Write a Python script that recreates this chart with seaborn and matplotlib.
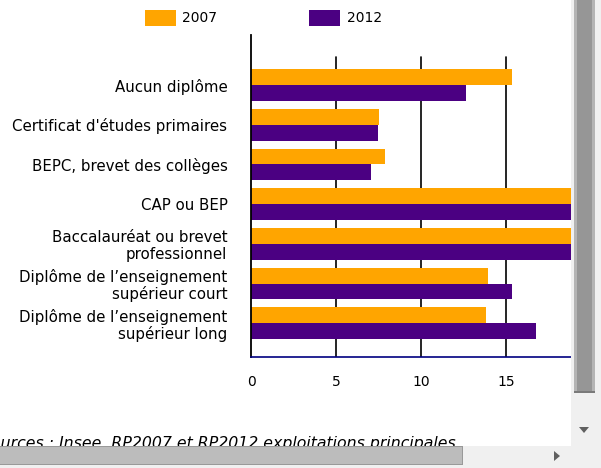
import pandas as pd
import numpy as np
import matplotlib
matplotlib.use("Agg")
import matplotlib.pyplot as plt
from matplotlib.patches import Patch, Rectangle, Polygon
import seaborn as sns

# categories and values (clipped ones on the right are estimates)
categories = [
    "Aucun diplôme",
    "Certificat d'études primaires",
    "BEPC, brevet des collèges",
    "CAP ou BEP",
    "Baccalauréat ou brevet\nprofessionnel",
    "Diplôme de l\u2019enseignement\nsupérieur court",
    "Diplôme de l\u2019enseignement\nsupérieur long",
]
years = ["2007", "2012"]
values_2007 = [15.35, 7.55, 7.9, 19.6, 19.4, 13.95, 13.85]
values_2012 = [12.65, 7.45, 7.05, 19.8, 19.6, 15.35, 16.75]
xticks = [0, 5, 10, 15]
colors = {"2007": "#FFA500", "2012": "#4B0082"}

df = pd.DataFrame({
    "categorie": categories * 2,
    "annee": ["2007"] * len(categories) + ["2012"] * len(categories),
    "valeur": values_2007 + values_2012,
})

sns.set_style("white")
plt.rcParams["font.family"] = ["DejaVu Sans"]
plt.rcParams["text.color"] = "black"
plt.rcParams["xtick.color"] = "black"
plt.rcParams["ytick.color"] = "black"

fig = plt.figure(figsize=(6.01, 4.68), dpi=100)
W, H = 601, 468
ax = fig.add_axes([251 / W, (H - 357) / H, 320 / W, 322 / H])

sns.barplot(data=df, y="categorie", x="valeur", hue="annee", order=categories,
            hue_order=years, palette=colors, orient="h", width=0.8,
            saturation=1, linewidth=0, ax=ax, legend=False)

ax.set_xlim(0, 18.82)
ax.set_ylim(6.85, -1.26)
ax.set_xlabel("")
ax.set_ylabel("")
ax.set_xticks(xticks)
ax.set_xticklabels([str(t) for t in xticks], fontsize=10)
ax.tick_params(axis="x", length=7, width=1, color="black", pad=6)
ax.tick_params(axis="y", length=0, pad=17, labelsize=10.8)
for lbl in ax.get_yticklabels():
    lbl.set_linespacing(1.1)
    lbl.set_horizontalalignment("right")
    lbl.set_multialignment("right")

for t in xticks[1:]:
    ax.axvline(t, ymin=0, ymax=(357 - 57) / 322, color="black", lw=1.2, zorder=0)

for s in ["top", "right"]:
    ax.spines[s].set_visible(False)
ax.spines["left"].set_color("black")
ax.spines["left"].set_linewidth(1.3)
ax.spines["bottom"].set_color("#000080")
ax.spines["bottom"].set_linewidth(1.2)

handles = [Patch(facecolor=colors[y], edgecolor="none") for y in years]
fig.legend(handles, years, loc="upper left", bbox_to_anchor=(139 / W, 1 - 4 / H),
           ncol=2, frameon=False, fontsize=10, handlelength=2.23, handleheight=1.44,
           handletextpad=0.5, columnspacing=6.6, borderaxespad=0)

# source line, partly hidden behind the horizontal scrollbar like in the page
fig.text(-19 / W, 1 - 448 / H, "Sources : Insee, RP2007 et RP2012 exploitations principales",
         fontsize=11.3, style="italic", ha="left", va="baseline")

# browser scrollbars
def rect(x0, y0, x1, y1, color, z=20):
    fig.add_artist(Rectangle((x0 / W, 1 - y1 / H), (x1 - x0) / W, (y1 - y0) / H,
                             transform=fig.transFigure, facecolor=color,
                             edgecolor="none", zorder=z))

rect(571, 0, 601, 446, "#f0f0f0")
rect(574, 0, 595, 393, "#b4b4b4", 21)
rect(577, 0, 592, 392, "#969696", 22)
rect(574, 391, 595, 393, "#7a7a7a", 22)
rect(0, 446, 601, 468, "#f0f0f0")
rect(0, 446, 463, 465, "#999999", 21)
rect(0, 447, 462, 464, "#bcbcbc", 22)
fig.add_artist(Polygon([(579 / W, 1 - 427 / H), (589 / W, 1 - 427 / H), (584 / W, 1 - 433 / H)],
                       closed=True, transform=fig.transFigure, facecolor="#606060",
                       edgecolor="none", zorder=23))
fig.add_artist(Polygon([(554 / W, 1 - 451 / H), (554 / W, 1 - 461 / H), (560 / W, 1 - 456 / H)],
                       closed=True, transform=fig.transFigure, facecolor="#606060",
                       edgecolor="none", zorder=23))

fig.savefig("out.png", dpi=100)
